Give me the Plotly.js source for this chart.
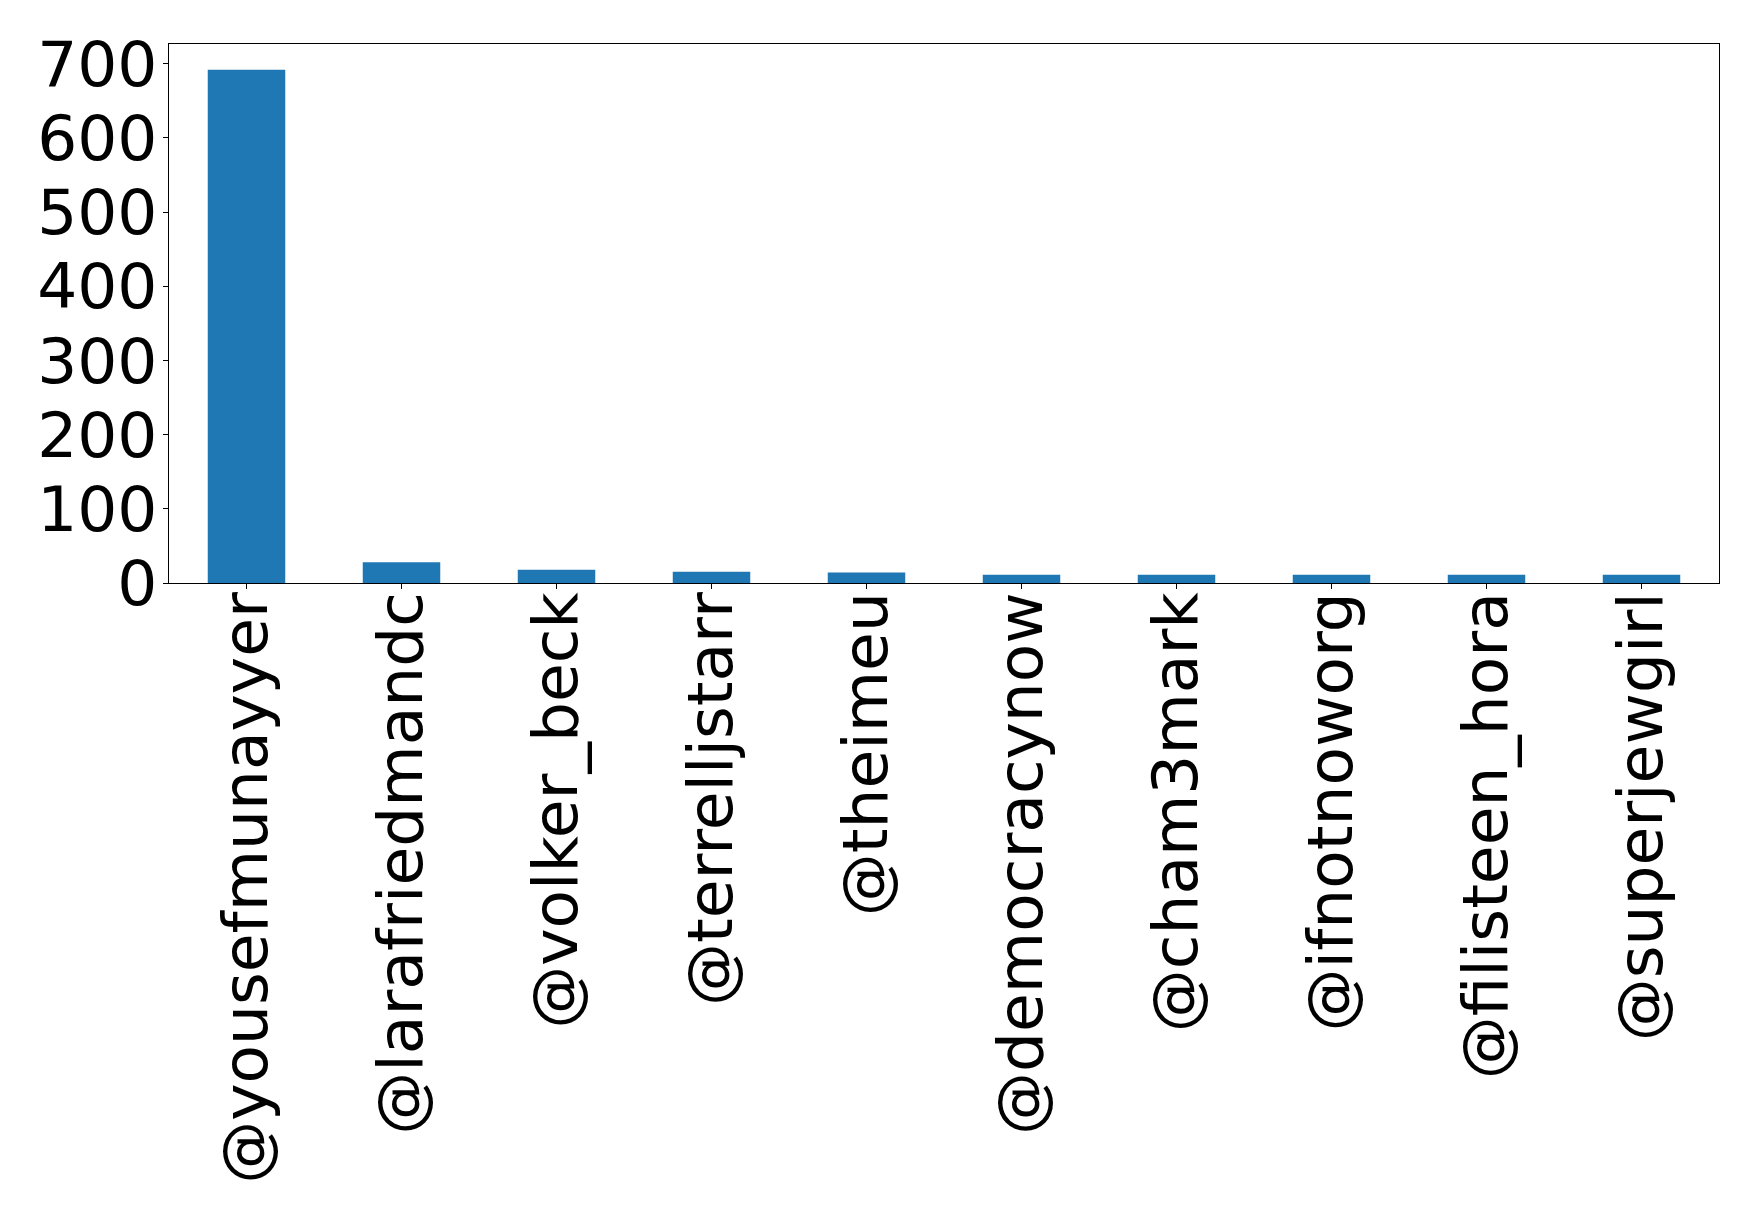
<!DOCTYPE html>
<html>
<head>
<meta charset="utf-8">
<script src="https://cdn.plot.ly/plotly-3.0.1.min.js"></script>
<style>
  html, body { margin: 0; padding: 0; background: #fff; }
  #chart { width: 1759px; height: 1219px; }
</style>
</head>
<body>
<div id="chart"></div>
<script>
'use strict';

// top mentioned accounts and their counts
const accounts = ['@yousefmunayyer', '@larafriedmandc', '@volker_beck', '@terrelljstarr', '@theimeu',
    '@democracynow', '@cham3mark', '@ifnotnoworg', '@filisteen_hora', '@superjewgirl'];
const counts = [692, 28, 18, 15, 14, 11, 11, 11, 11, 11];
const yTicks = [0, 100, 200, 300, 400, 500, 600, 700];

const bars = {
    x: accounts,
    y: counts,
    type: 'bar',
    marker: { color: '#1f77b4', line: { width: 0 } },
    hoverinfo: 'skip'
};

const tickFont = { family: 'DejaVu Sans', size: 63, color: '#000' };

const layout = {
    width: 1759,
    height: 1219,
    margin: { l: 169, r: 40, t: 44, b: 636 },
    paper_bgcolor: '#fff',
    plot_bgcolor: '#fff',
    showlegend: false,
    bargap: 0.5,
    xaxis: {
        type: 'category',
        range: [-0.5, accounts.length - 0.5],
        tickangle: -90,
        tickfont: tickFont,
        ticks: 'outside', ticklen: 5, tickwidth: 1, tickcolor: '#000',
        ticklabelstandoff: -22,
        showline: true, linecolor: '#000', linewidth: 1, mirror: true,
        showgrid: false, zeroline: false
    },
    yaxis: {
        range: [0, 726.6],
        tickvals: yTicks,
        ticktext: yTicks.map(String),
        tickfont: tickFont,
        ticks: 'outside', ticklen: 5, tickwidth: 1, tickcolor: '#000',
        ticklabelstandoff: -7,
        showline: true, linecolor: '#000', linewidth: 1, mirror: true,
        showgrid: false, zeroline: false
    }
};

Plotly.newPlot('chart', [bars], layout, { staticPlot: true, displayModeBar: false });
</script>
</body>
</html>
